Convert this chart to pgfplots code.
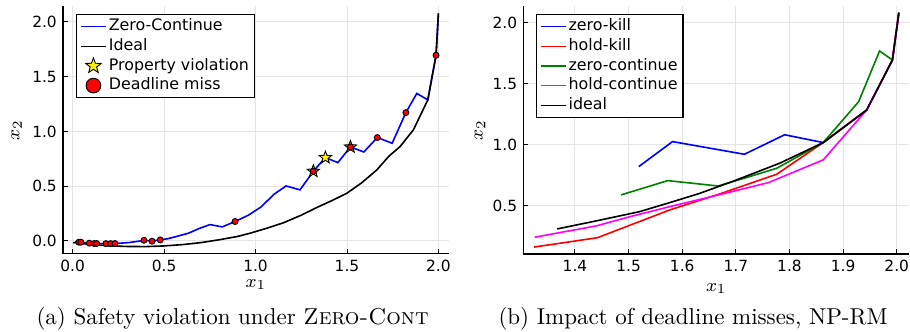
\documentclass[border=0pt]{standalone}
\usepackage{fontspec}
\usepackage{pgfplots}
\pgfplotsset{compat=1.18}
\newfontfamily\dejavu{DejaVu Sans}
\definecolor{hgreen}{rgb}{0,0.5,0}
\definecolor{hmag}{rgb}{1,0,1}
\pgfdeclareplotmark{fstar}{%
  \pgfpathmoveto{\pgfpointpolar{90}{\pgfplotmarksize}}%
  \pgfpathlineto{\pgfpointpolar{126}{0.42\pgfplotmarksize}}%
  \pgfpathlineto{\pgfpointpolar{162}{\pgfplotmarksize}}%
  \pgfpathlineto{\pgfpointpolar{198}{0.42\pgfplotmarksize}}%
  \pgfpathlineto{\pgfpointpolar{234}{\pgfplotmarksize}}%
  \pgfpathlineto{\pgfpointpolar{270}{0.42\pgfplotmarksize}}%
  \pgfpathlineto{\pgfpointpolar{306}{\pgfplotmarksize}}%
  \pgfpathlineto{\pgfpointpolar{342}{0.42\pgfplotmarksize}}%
  \pgfpathlineto{\pgfpointpolar{18}{\pgfplotmarksize}}%
  \pgfpathlineto{\pgfpointpolar{54}{0.42\pgfplotmarksize}}%
  \pgfpathclose
  \pgfusepathqfillstroke}
\pgfplotsset{
  base/.style={
    scale only axis, width=168pt, height=107.9pt,
    axis x line*=bottom, axis y line*=left,
    axis line style={line width=0.5pt},
    tick align=inside, major tick length=2pt,
    tick style={black, line width=0.4pt},
    grid=major, major grid style={black!10, line width=0.4pt},
    tick label style={font=\dejavu\fontsize{6.7}{7.5}\selectfont},
    xticklabel style={anchor=base, yshift=-7.8pt, inner sep=0pt},
    yticklabel style={anchor=east, inner sep=2.5pt},
    label style={font=\fontsize{8.5}{10}\selectfont},
    legend cell align=left,
    legend style={anchor=north west, draw=black, line width=0.5pt, fill=white,
      font=\dejavu\fontsize{6.9}{7.6}\selectfont, inner xsep=1.5pt, inner ysep=1pt,
      nodes={inner sep=0.9pt}, row sep=0pt},
  },
  lineleg/.style={legend image code/.code={\draw[line width=0.6pt] (0pt,0pt) -- (11pt,0pt);}},
}
\begin{document}
\begin{tikzpicture}
\begin{axis}[base, at={(0,0)}, anchor=south west,
  xmin=-0.053, xmax=2.058, ymin=-0.119, ymax=2.146,
  xtick={0,0.5,1,1.5,2}, xticklabels={0.0,0.5,1.0,1.5,2.0},
  ytick={0,0.5,1,1.5,2}, yticklabels={0.0,0.5,1.0,1.5,2.0},
  xlabel={$x_1$}, ylabel={$x_2$},
  xlabel style={at={(axis description cs:0.5,-0.1335)}, anchor=base},
  ylabel style={at={(axis description cs:-0.12,0.5)}, anchor=center},
  legend style={at={(0.034,0.9676)}},
]
\addplot[blue, line width=0.7pt, lineleg] coordinates {
(0.013,-0.006)(0.034,-0.012)(0.045,-0.012)(0.091,-0.021)(0.118,-0.024)(0.131,-0.024)
(0.182,-0.025)(0.208,-0.025)(0.231,-0.024)(0.31,-0.015)(0.390,0.004)(0.434,0.0)
(0.479,0.009)(0.52,0.02)(0.567,0.040)(0.633,0.070)(0.696,0.116)(0.751,0.149)
(0.818,0.128)(0.888,0.177)(0.961,0.235)(1.030,0.310)(1.101,0.426)(1.167,0.502)
(1.243,0.466)(1.316,0.636)(1.382,0.761)(1.450,0.715)(1.519,0.858)(1.592,0.812)
(1.666,0.944)(1.747,0.892)(1.822,1.172)(1.882,1.347)(1.942,1.288)(1.987,1.696)(2.000,2.079)};
\addlegendentry{Zero-Continue}
\addplot[black, line width=0.7pt, lineleg] coordinates {
(0.003,-0.015)(0.1,-0.033)(0.2,-0.045)(0.3,-0.051)(0.4,-0.052)(0.5,-0.046)(0.6,-0.034)
(0.7,-0.016)(0.8,0.010)(0.9,0.040)(0.970,0.070)(1.06,0.115)(1.152,0.165)(1.25,0.235)
(1.335,0.305)(1.42,0.37)(1.499,0.435)(1.58,0.53)(1.663,0.648)(1.73,0.775)(1.790,0.861)
(1.863,1.014)(1.942,1.288)(1.987,1.696)(2.000,2.079)};
\addlegendentry{Ideal}
\addplot[only marks, mark=fstar, mark size=2.8pt, mark options={fill=yellow, draw=black, line width=0.4pt},
  legend image code/.code={\draw[only marks, mark size=3.5pt] plot coordinates {(5.5pt,0pt)};}] coordinates {
(1.316,0.636)(1.382,0.761)(1.519,0.858)};
\addlegendentry{Property violation}
\addplot[only marks, mark=*, mark size=1.3pt, mark options={fill=red, draw=black, line width=0.4pt},
  legend image code/.code={\draw[only marks, mark size=3.2pt] plot coordinates {(5.5pt,0pt)};}] coordinates {
(0.034,-0.012)(0.045,-0.012)(0.091,-0.021)(0.118,-0.024)(0.131,-0.024)(0.182,-0.025)
(0.208,-0.025)(0.231,-0.024)(0.390,0.006)(0.434,-0.003)(0.479,0.009)(0.888,0.177)
(1.316,0.636)(1.519,0.858)(1.666,0.944)(1.822,1.172)(1.987,1.696)};
\addlegendentry{Deadline miss}
\end{axis}
\begin{axis}[base, at={(200.3pt,0)}, anchor=south west,
  xmin=1.3036, xmax=2.0235, ymin=0.104, ymax=2.137,
  xtick={1.4,1.5,1.6,1.7,1.8,1.9,2.0}, xticklabels={1.4,1.5,1.6,1.7,1.8,1.9,2.0},
  ytick={0.5,1,1.5,2}, yticklabels={0.5,1.0,1.5,2.0},
  xlabel={$x_1$}, ylabel={$x_2$},
  xlabel style={at={(axis description cs:0.5,-0.15)}, anchor=base},
  ylabel style={at={(axis description cs:-0.112,0.5)}, anchor=center},
  legend style={at={(0.0327,0.9676)}},
]
\addplot[blue, line width=0.7pt, lineleg] coordinates {
(1.519,0.820)(1.582,1.025)(1.716,0.921)(1.791,1.081)(1.863,1.017)(1.944,1.284)(1.992,1.694)(2.004,2.082)};
\addlegendentry{zero-kill}
\addplot[red, line width=0.7pt, lineleg] coordinates {
(1.3235,0.160)(1.442,0.237)(1.577,0.465)(1.670,0.596)(1.776,0.757)(1.863,1.017)(1.944,1.284)(1.992,1.694)(2.004,2.082)};
\addlegendentry{hold-kill}
\addplot[hgreen, line width=0.7pt, lineleg] coordinates {
(1.486,0.588)(1.573,0.705)(1.667,0.661)(1.716,0.725)(1.776,0.806)(1.863,1.017)(1.929,1.352)(1.968,1.768)(1.992,1.694)(2.004,2.082)};
\addlegendentry{zero-continue}
\addplot[hmag, line width=0.7pt, lineleg] coordinates {
(1.325,0.241)(1.440,0.334)(1.503,0.410)(1.577,0.492)(1.670,0.590)(1.761,0.689)(1.863,0.875)(1.944,1.284)(1.992,1.694)(2.004,2.082)};
\addlegendentry{hold-continue}
\addplot[black, line width=0.7pt, lineleg] coordinates {
(1.367,0.309)(1.442,0.377)(1.52,0.450)(1.577,0.525)(1.633,0.601)(1.695,0.700)(1.782,0.848)(1.863,1.017)(1.944,1.284)(1.992,1.694)(2.004,2.082)};
\addlegendentry{ideal}
\end{axis}
\node[anchor=base] at (73.8pt,-30.9pt) {(a) Safety violation under \textsc{Zero-Cont}};
\node[anchor=base] at (274.2pt,-30.9pt) {(b) Impact of deadline misses, NP-RM};
\pgfresetboundingbox
\path[use as bounding box] (-27.4pt,-33.9pt) rectangle (368.6pt,110.5pt);
\end{tikzpicture}
\end{document}
